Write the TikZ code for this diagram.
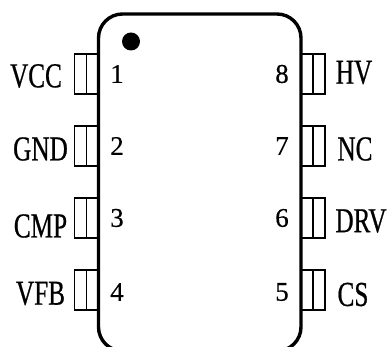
\documentclass[tikz,border=0pt]{standalone}
\usepackage{fontspec}
\setmainfont{Liberation Serif}
\newfontfamily\pinfont[FakeStretch=0.72,FakeBold=0.6]{Liberation Serif}
\newfontfamily\numfont[FakeBold=0.4]{Liberation Serif}

\begin{document}
\begin{tikzpicture}[x=1pt,y=1pt,node distance=72pt,
		chipbody/.style={shape=rectangle,draw,line width=3.4pt,rounded corners=24pt,minimum width=202.5pt,minimum height=337pt},
		pinbox/.style={shape=rectangle,draw,line width=1.3pt,minimum width=12pt,minimum height=40pt,inner sep=0pt},
		pinname/.style={font=\pinfont\fontsize{35}{35}\selectfont,inner sep=0pt},
		pinnum/.style={font=\numfont\fontsize{27}{27}\selectfont,inner sep=0pt}]
	\useasboundingbox (0,0) rectangle (390,347);
	\node (chip) [chipbody] at (199.75,164.5) {};
	\node (dot) [shape=circle,fill,inner sep=0pt,minimum size=18pt] at (131,305.5) {};

	\node (outerone) [pinbox] at (80.5,273) {};
	\node (outertwo) [pinbox] [below of = outerone] {};
	\node (outerthree) [pinbox] [below of = outertwo] {};
	\node (outerfour) [pinbox] [below of = outerthree] {};
	\node (innerone) [pinbox] [right of = outerone,node distance=12pt] {};
	\node (innertwo) [pinbox] [right of = outertwo,node distance=12pt] {};
	\node (innerthree) [pinbox] [right of = outerthree,node distance=12pt] {};
	\node (innerfour) [pinbox] [right of = outerfour,node distance=12pt] {};

	\node (innereight) [pinbox] at (307,273) {};
	\node (innerseven) [pinbox] [below of = innereight] {};
	\node (innersix) [pinbox] [below of = innerseven] {};
	\node (innerfive) [pinbox] [below of = innersix] {};
	\node (outereight) [pinbox] [right of = innereight,node distance=12pt] {};
	\node (outerseven) [pinbox] [right of = innerseven,node distance=12pt] {};
	\node (outersix) [pinbox] [right of = innersix,node distance=12pt] {};
	\node (outerfive) [pinbox] [right of = innerfive,node distance=12pt] {};

	\node (vcc) [pinname] [left of = outerone,node distance=44.5pt,yshift=-2pt] {VCC};
	\node (gnd) [pinname] [left of = outertwo,node distance=40pt,yshift=-3pt] {GND};
	\node (cmp) [pinname] [left of = outerthree,node distance=40pt,yshift=-8pt] {CMP};
	\node (vfb) [pinname] [left of = outerfour,node distance=40pt,yshift=-3.5pt] {VFB};
	\node (hv) [pinname] [right of = outereight,node distance=35pt,yshift=1.5pt] {HV};
	\node (nc) [pinname] [right of = outerseven,node distance=36pt,yshift=-3pt] {NC};
	\node (drv) [pinname] [right of = outersix,node distance=42pt,yshift=-3pt] {DRV};
	\node (cs) [pinname] [right of = outerfive,node distance=34pt,yshift=-4.5pt] {CS};

	\node (one) [pinnum] [right of = innerone,node distance=24.5pt] {1};
	\node (two) [pinnum] [right of = innertwo,node distance=24.5pt] {2};
	\node (three) [pinnum] [right of = innerthree,node distance=24.5pt] {3};
	\node (four) [pinnum] [right of = innerfour,node distance=24.5pt,yshift=-2pt] {4};
	\node (eight) [pinnum] [left of = innereight,node distance=25pt] {8};
	\node (seven) [pinnum] [left of = innerseven,node distance=25pt] {7};
	\node (six) [pinnum] [left of = innersix,node distance=25pt] {6};
	\node (five) [pinnum] [left of = innerfive,node distance=25pt,yshift=-2pt] {5};
\end{tikzpicture}
\end{document}
